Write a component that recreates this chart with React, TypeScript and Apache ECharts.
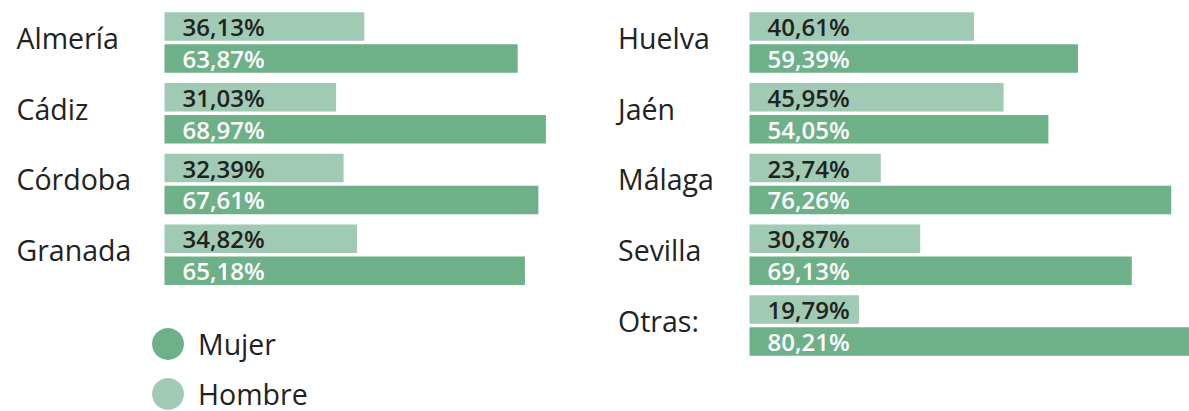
import React, { useEffect, useRef } from 'react';
import * as echarts from 'echarts';

const leftProvinces = ['Almería', 'Cádiz', 'Córdoba', 'Granada'];
const leftHombre = [36.13, 31.03, 32.39, 34.82];
const leftMujer = [63.87, 68.97, 67.61, 65.18];

const rightProvinces = ['Huelva', 'Jaén', 'Málaga', 'Sevilla', 'Otras:'];
const rightHombre = [40.61, 45.95, 23.74, 30.87, 19.79];
const rightMujer = [59.39, 54.05, 76.26, 69.13, 80.21];

const legendNames = ['Mujer', 'Hombre'];

const COLOR_MUJER = '#6eb088';
const COLOR_HOMBRE = '#a0cab3';
const FONT = '"Open Sans", sans-serif';

const fmt = (p: any) => Number(p.value).toFixed(2).replace('.', ',') + '%';

export default function App() {
  const ref = useRef<HTMLDivElement>(null);

  useEffect(() => {
    if (!ref.current) return;
    const chart = echarts.init(ref.current, undefined, { renderer: 'svg' });
    const band = 70.75;
    const top = 7.1;
    const barW = 28.5;
    const pxPerPct = 5.53;
    const leftX = 164.5;
    const rightX = 749.5;
    const rightW = 1189 - rightX;

    const yAxisCommon = {
      type: 'category' as const,
      inverse: true,
      axisLine: { show: false },
      axisTick: { show: false },
      splitLine: { show: false },
      axisLabel: {
        align: 'left' as const,
        verticalAlign: 'bottom' as const,
        lineHeight: 9,
        fontSize: 28.5,
        fontFamily: FONT,
        color: '#222222',
      },
    };

    const mkSeries = (name: string, data: number[], idx: number, color: string, textColor: string) => ({
      type: 'bar' as const,
      name,
      data,
      xAxisIndex: idx,
      yAxisIndex: idx,
      barWidth: barW,
      barGap: '11.6%',
      itemStyle: { color },
      label: {
        show: true,
        position: 'insideLeft' as const,
        distance: 18,
        formatter: fmt,
        color: textColor,
        fontSize: 24,
        fontWeight: 600,
        fontFamily: FONT,
      },
    });

    const legendCommon = {
      orient: 'vertical' as const,
      left: 147,
      icon: 'circle',
      itemWidth: 32,
      itemHeight: 32,
      textStyle: {
        fontSize: 28.5,
        lineHeight: 30,
        fontFamily: FONT,
        color: '#222222',
        padding: [0, 0, 0, 9],
      },
    };

    chart.setOption({
      animation: false,
      legend: [
        { ...legendCommon, data: [legendNames[0]], top: 323 },
        { ...legendCommon, data: [legendNames[1]], top: 373 },
      ],
      grid: [
        { left: leftX, top, width: pxPerPct * 100, height: band * 4 },
        { left: rightX, top, width: rightW, height: band * 5 },
      ],
      xAxis: [
        { type: 'value', min: 0, max: 100, show: false, gridIndex: 0 },
        { type: 'value', min: 0, max: rightW / pxPerPct, show: false, gridIndex: 1 },
      ],
      yAxis: [
        { ...yAxisCommon, gridIndex: 0, data: leftProvinces, axisLabel: { ...yAxisCommon.axisLabel, margin: 148 } },
        { ...yAxisCommon, gridIndex: 1, data: rightProvinces, axisLabel: { ...yAxisCommon.axisLabel, margin: 131.5 } },
      ],
      series: [
        mkSeries('Hombre', leftHombre, 0, COLOR_HOMBRE, '#222222'),
        mkSeries('Mujer', leftMujer, 0, COLOR_MUJER, '#ffffff'),
        mkSeries('Hombre', rightHombre, 1, COLOR_HOMBRE, '#222222'),
        mkSeries('Mujer', rightMujer, 1, COLOR_MUJER, '#ffffff'),
      ],
    });

    return () => chart.dispose();
  }, []);

  return (
    <div
      ref={ref}
      style={{ position: 'fixed', left: 0, top: 0, width: 1189, height: 411, background: '#ffffff' }}
    />
  );
}
